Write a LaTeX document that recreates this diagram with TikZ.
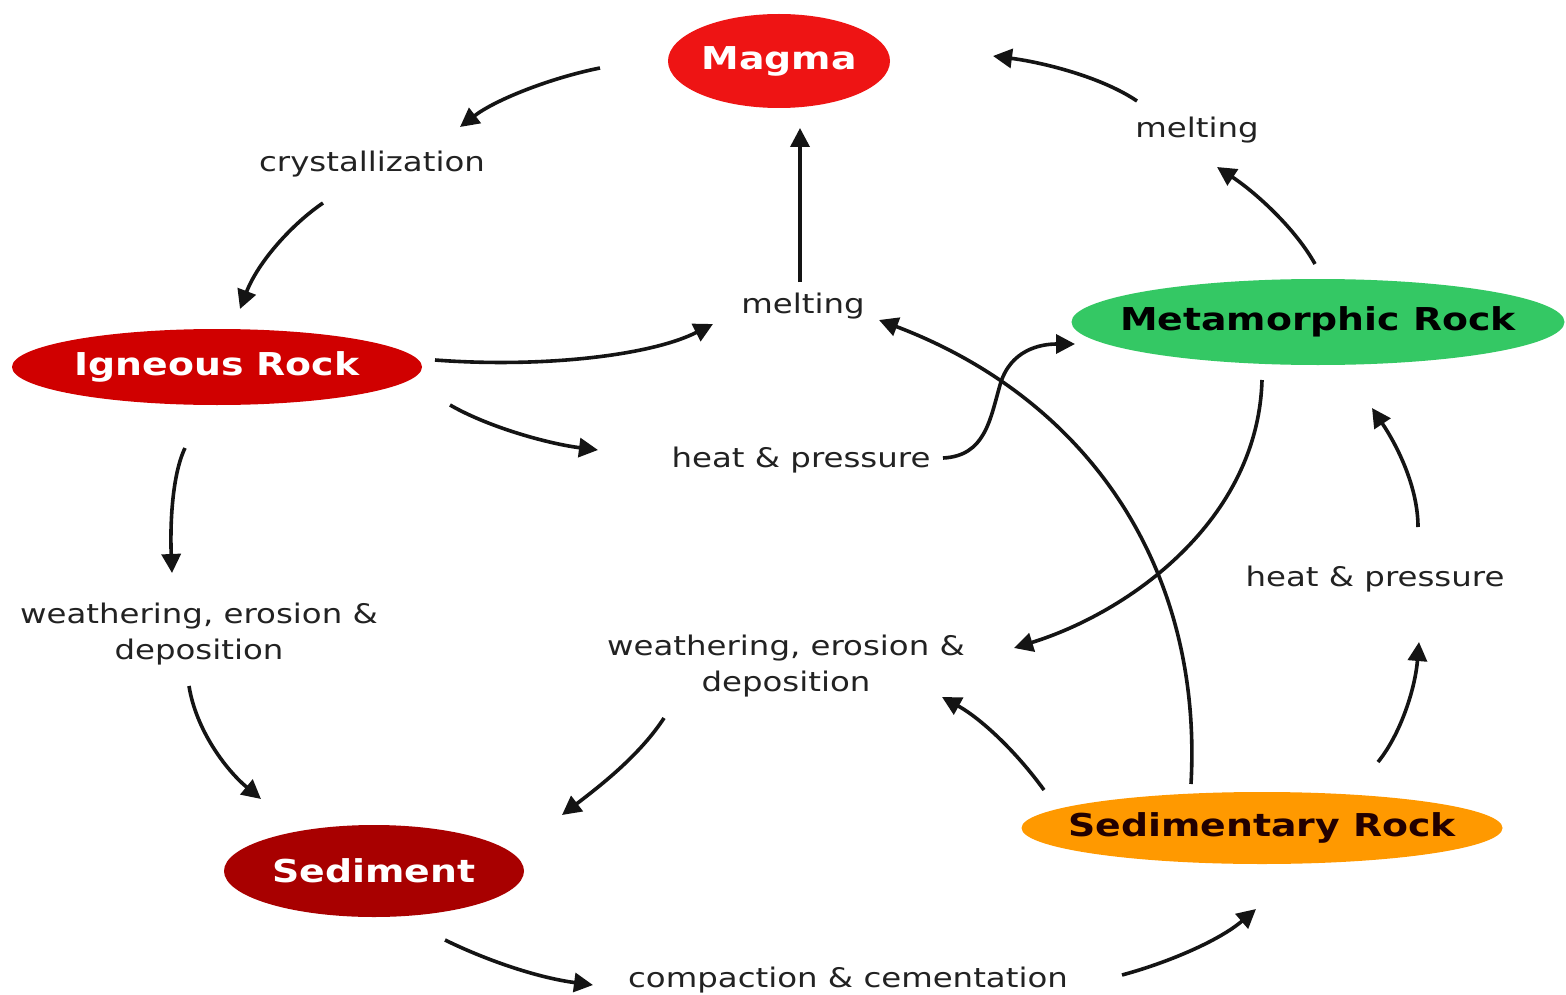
\documentclass[tikz,border=0pt]{standalone}
\usepackage{fontspec}
\setmainfont{DejaVu Sans}[FakeStretch=1.2]
\usetikzlibrary{shapes.geometric,arrows.meta}
\definecolor{magmared}{RGB}{238,20,20}
\definecolor{ignred}{RGB}{208,0,0}
\definecolor{sedred}{RGB}{168,0,0}
\definecolor{metgreen}{RGB}{52,200,100}
\definecolor{sedorange}{RGB}{255,153,0}
\definecolor{labelgray}{RGB}{34,34,34}
\definecolor{sedtext}{RGB}{34,0,0}
\newcommand{\rocktext}[1]{\makebox[0pt]{#1}}
\tikzset{
  rock/.style={ellipse, inner sep=0pt, font=\fontsize{31.5}{36}\selectfont\bfseries},
  proc/.style={inner sep=0pt, align=center, text=labelgray, font=\fontsize{27}{36}\selectfont},
  flow/.style={line width=3.6pt, draw=black!92, -{Triangle[length=19pt,width=19pt]}}
}
\begin{document}
\begin{tikzpicture}[x=1pt,y=-1pt]
\useasboundingbox[fill=white] (0,0) rectangle (1566,995);
% rock nodes
\node[rock, fill=magmared, text=white, minimum width=222pt, minimum height=94pt] (magma) at (779,61) {\rocktext{Magma}};
\node[rock, fill=ignred, text=white, minimum width=410pt, minimum height=76pt] (igneous) at (217,367) {\rocktext{Igneous Rock}};
\node[rock, fill=metgreen, text=black, minimum width=493pt, minimum height=86pt] (meta) at (1318,322) {\rocktext{Metamorphic Rock}};
\node[rock, fill=sedorange, text=sedtext, minimum width=481pt, minimum height=72pt] (sedrock) at (1262,828) {\rocktext{Sedimentary Rock}};
\node[rock, fill=sedred, text=white, minimum width=300pt, minimum height=92pt] (sediment) at (374,871) {\rocktext{Sediment}};
% process labels
\node[proc] (cryst) at (372,164) {crystallization};
\node[proc] (meltTR) at (1197,130) {melting};
\node[proc] (meltC) at (803,306) {melting};
\node[proc] (heatC) at (801,460) {heat \& pressure};
\node[proc] (heatR) at (1375,579) {heat \& pressure};
\node[proc] (weathL) at (199,634) {weathering, erosion \&\\deposition};
\node[proc] (weathM) at (786,666) {weathering, erosion \&\\deposition};
\node[proc] (compact) at (848,980) {compaction \& cementation};
% connector end points
\coordinate (a1s) at (600,68);   \coordinate (a1e) at (460,127);
\coordinate (a2s) at (323,203);  \coordinate (a2e) at (240,309);
\coordinate (a3s) at (435,360);  \coordinate (a3e) at (713,324);
\coordinate (a4s) at (800,282);  \coordinate (a4e) at (800,128);
\coordinate (a5s) at (450,405);  \coordinate (a5e) at (598,450);
\coordinate (a6s) at (943,458);  \coordinate (a6m) at (1000,385); \coordinate (a6e) at (1075,344);
\coordinate (a7s) at (1315,264); \coordinate (a7e) at (1217,167);
\coordinate (a8s) at (1137,101); \coordinate (a8e) at (993,56);
\coordinate (a9s) at (185,448);  \coordinate (a9e) at (172,573);
\coordinate (a10s) at (189,686); \coordinate (a10e) at (261,799);
\coordinate (a11s) at (1191,784);\coordinate (a11e) at (879,320);
\coordinate (a12s) at (1262,380);\coordinate (a12e) at (1014,648);
\coordinate (a13s) at (1044,790);\coordinate (a13e) at (942,697);
\coordinate (a14s) at (664,718); \coordinate (a14e) at (562,815);
\coordinate (a15s) at (1378,762);\coordinate (a15e) at (1419,642);
\coordinate (a16s) at (1418,527);\coordinate (a16e) at (1372,408);
\coordinate (a17s) at (445,940); \coordinate (a17e) at (593,985);
\coordinate (a18s) at (1122,975);\coordinate (a18e) at (1256,909);
% connectors
\draw[flow] (a1s) .. controls (550,78) and (495,100) .. (a1e);
\draw[flow] (a2s) .. controls (292,224) and (258,262) .. (a2e);
\draw[flow] (a3s) .. controls (540,368) and (650,356) .. (a3e);
\draw[flow] (a4s) -- (a4e);
\draw[flow] (a5s) .. controls (490,428) and (550,444) .. (a5e);
\draw[flow] (a6s) .. controls (985,456) and (990,420) .. (a6m) .. controls (1010,350) and (1040,344) .. (a6e);
\draw[flow] (a7s) .. controls (1295,228) and (1255,192) .. (a7e);
\draw[flow] (a8s) .. controls (1100,76) and (1040,62) .. (a8e);
\draw[flow] (a9s) .. controls (172,475) and (170,525) .. (a9e);
\draw[flow] (a10s) .. controls (196,730) and (226,770) .. (a10e);
\draw[flow] (a11s) .. controls (1203,570) and (1090,400) .. (a11e);
\draw[flow] (a12s) .. controls (1258,520) and (1130,612) .. (a12e);
\draw[flow] (a13s) .. controls (1015,750) and (980,718) .. (a13e);
\draw[flow] (a14s) .. controls (640,755) and (600,786) .. (a14e);
\draw[flow] (a15s) .. controls (1400,735) and (1415,690) .. (a15e);
\draw[flow] (a16s) .. controls (1418,490) and (1400,450) .. (a16e);
\draw[flow] (a17s) .. controls (490,962) and (540,978) .. (a17e);
\draw[flow] (a18s) .. controls (1170,962) and (1220,940) .. (a18e);
\end{tikzpicture}
\end{document}
